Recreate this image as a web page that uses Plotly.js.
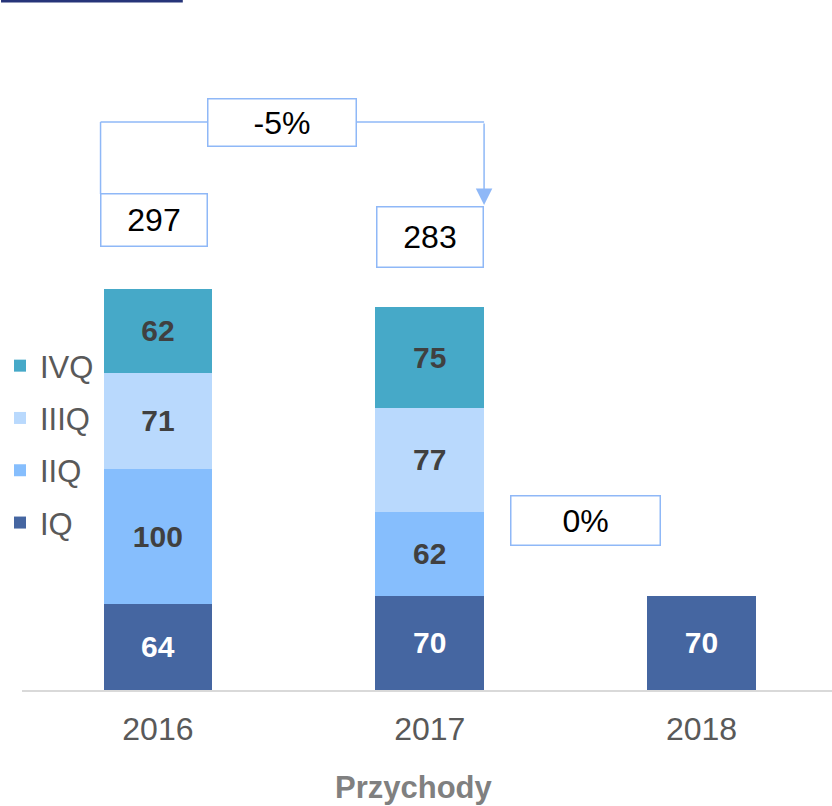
<!DOCTYPE html>
<html>
<head>
<meta charset="utf-8">
<script src="https://cdn.plot.ly/plotly-3.0.1.min.js"></script>
<style>
  html, body { margin: 0; padding: 0; background: #ffffff; }
  #chart { width: 832px; height: 806px; }
</style>
</head>
<body>
<div id="chart"></div>
<script>
// ---- data ----
const years = ['2016', '2017', '2018'];
const seriesNames = ['IQ', 'IIQ', 'IIIQ', 'IVQ'];
const q1 = [64, 70, 70];
const q2 = [100, 62, null];
const q3 = [71, 77, null];
const q4 = [62, 75, null];
const totals = [297, 283];          // totals as printed in the chart
const axisTitle = 'Przychody';

// ---- styles ----
const colors = ['#4566a1', '#86befd', '#b9d9fd', '#46a9c8'];
const labelColors = ['#ffffff', '#404040', '#404040', '#404040'];
const FONT = 'Liberation Sans, Arial, sans-serif';
const BOX = '#8fb8f7';

const series = [q1, q2, q3, q4];
const traces = series.map((vals, i) => ({
  type: 'bar',
  name: seriesNames[i],
  legendgroup: 'g' + i,
  legendrank: 1000 - i,
  x: years,
  y: vals,
  marker: { color: colors[i], line: { width: 0 } },
  text: vals.map(v => v == null ? '' : String(v)),
  textposition: 'inside',
  insidetextanchor: 'middle',
  textangle: 0,
  constraintext: 'none',
  textfont: { family: FONT, size: 30, color: labelColors[i], weight: 'bold' },
  hoverinfo: 'skip'
}));

const stackTops = years.map((_, j) => series.reduce((s, arr) => s + (arr[j] || 0), 0));
const chgTotal = Math.round((totals[1] / totals[0] - 1) * 100);
const chgQ1 = Math.round((q1[2] / q1[1] - 1) * 100);

const pxPerUnit = 1.35;
const plotH = 690;
const yMax = plotH / pxPerUnit;
const connY = (690 - 122) / pxPerUnit;

const boxAnn = (text, x, y, w, h, extra) => Object.assign({
  text: text, x: x, y: y, xref: 'x', yref: 'y',
  showarrow: false, width: w, height: h, borderpad: 0,
  bordercolor: BOX, borderwidth: 1.5, bgcolor: '#ffffff',
  font: { family: FONT, size: 32, color: '#000000' },
  valign: 'middle', align: 'center'
}, extra || {});

const annotations = [
  boxAnn(String(totals[0]), 0, stackTops[0], 105, 51, { yanchor: 'bottom', xshift: -4, yshift: 42 }),
  boxAnn(String(totals[1]), 1, stackTops[1], 105, 59, { yanchor: 'bottom', xshift: 0, yshift: 39 }),
  boxAnn(chgTotal + '%', 0.458, connY, 147, 46, {}),
  boxAnn(chgQ1 + '%', 1.574, (690 - 520) / pxPerUnit, 148, 48, {}),
  {
    text: '', x: 1.2, y: (690 - 205) / pxPerUnit, xref: 'x', yref: 'y',
    showarrow: true, ax: 0, ay: -83, arrowcolor: BOX, arrowwidth: 1.5,
    arrowhead: 2, arrowsize: 2.2
  },
  {
    text: '<b>' + axisTitle + '</b>', xref: 'paper', yref: 'paper',
    x: (413 - 21) / 811, y: -(787 - 690) / 690, yanchor: 'middle', xanchor: 'center',
    showarrow: false, font: { family: FONT, size: 31, color: '#808080' }
  }
];

const shapes = [
  { type: 'line', xref: 'x', yref: 'y', x0: -0.211, x1: -0.211,
    y0: (690 - 194) / pxPerUnit, y1: connY, line: { color: BOX, width: 1.5 } },
  { type: 'line', xref: 'x', yref: 'y', x0: -0.211, x1: 1.2,
    y0: connY, y1: connY, line: { color: BOX, width: 1.5 } },
  { type: 'rect', xref: 'paper', yref: 'paper', x0: -21 / 811, x1: 161 / 811,
    y0: 1 - 2.5 / 690, y1: 1, fillcolor: '#263479', line: { width: 0 } }
];

const layout = {
  width: 832, height: 806,
  margin: { l: 21, r: 0, t: 0, b: 116 },
  paper_bgcolor: '#ffffff', plot_bgcolor: '#ffffff',
  barmode: 'stack', bargap: 0.6,
  showlegend: true,
  legend: {
    x: -22 / 811, xanchor: 'left', y: 1 - 339 / 690, yanchor: 'top',
    traceorder: 'grouped', tracegroupgap: 9, itemwidth: 30,
    font: { family: FONT, size: 31, color: '#595959' },
    bgcolor: 'rgba(0,0,0,0)', borderwidth: 0
  },
  xaxis: {
    type: 'category', range: [-0.5, 2.48], fixedrange: true,
    showline: true, linecolor: '#d9d9d9', linewidth: 2,
    showgrid: false, zeroline: false, ticks: '', ticklabelstandoff: 10,
    tickfont: { family: FONT, size: 32, color: '#595959' }
  },
  yaxis: { visible: false, range: [0, yMax], fixedrange: true },
  annotations: annotations,
  shapes: shapes
};

Plotly.newPlot('chart', traces, layout, { displayModeBar: false, staticPlot: true });
</script>
</body>
</html>
